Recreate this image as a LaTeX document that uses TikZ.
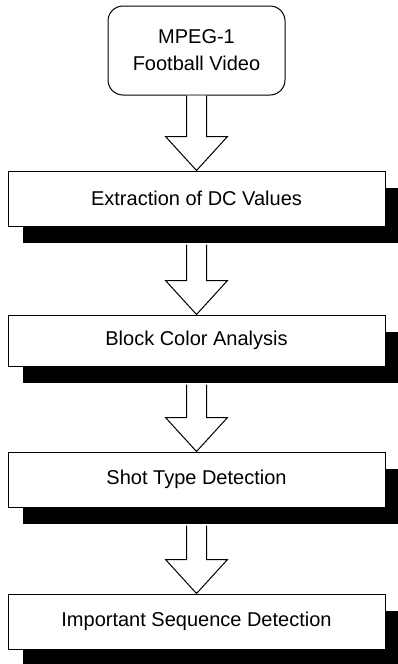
\documentclass[tikz,border=0pt]{standalone}
\usepackage{fontspec}
\setmainfont{Liberation Sans}
\usepackage{tikz}
\usetikzlibrary{positioning, calc, shadows}

\begin{document}
\begin{tikzpicture}[x=1pt, y=1pt, line width=1pt,
    font=\fontsize{20}{27}\selectfont,
    source/.style={rectangle, draw, rounded corners=15pt, fill=white, minimum width=177pt, minimum height=89pt, align=center, inner sep=0pt},
    stage/.style={rectangle, draw, fill=white, minimum width=377pt, minimum height=55pt, inner sep=0pt,
        drop shadow={shadow xshift=15pt, shadow yshift=-17pt, opacity=1, fill=black}},
    flow/.style={draw, fill=white, line join=miter}]
		\useasboundingbox (0,0) rectangle (397,-664);

		\node[source] (src) at (196.5,-50.5) {MPEG-1\\Football Video};
		\node[stage, below=75pt of src] (dcval) {Extraction of DC Values};
		\node[stage, below=88pt of dcval, minimum height=51pt] (color) {Block Color Analysis};
		\node[stage, below=85pt of color] (shot) {Shot Type Detection};
		\node[stage, below=86pt of shot] (seq) {Important Sequence Detection};

		% hollow block arrows, starting under the box (or its shadow)
		\foreach \from/\to/\gap in {src/dcval/0, dcval/color/18, color/shot/18, shot/seq/18}
			\draw[flow] ($(\from.south)+(-10,-\gap)$) -- ($(\to.north)+(-10,34)$) -- ($(\to.north)+(-31,34)$)
				-- (\to.north) -- ($(\to.north)+(31,34)$) -- ($(\to.north)+(10,34)$) -- ($(\from.south)+(10,-\gap)$);
\end{tikzpicture}
\end{document}
